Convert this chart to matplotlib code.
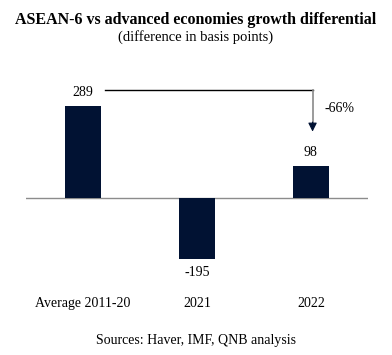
import numpy as np
import matplotlib.pyplot as plt

# data
categories = ["Average 2011-20", "2021", "2022"]
values = [289, -195, 98]
change_label = "-66%"

BAR_COLOR = "#011233"

plt.rcParams["font.family"] = ["Liberation Serif", "DejaVu Serif"]

fig = plt.figure(figsize=(3.92, 3.55), dpi=100)
ax = fig.add_axes([0.0663, 0.2535, 0.872, 0.507])

x = np.arange(len(categories))
ax.bar(x, values, width=0.32, color=BAR_COLOR, zorder=2)
ax.axhline(0, color="#8c8c8c", linewidth=1.0, zorder=1)

ax.set_xlim(-0.5, 2.5)
ax.set_ylim(-213, 355)

# value labels
for xi, v in zip(x, values):
    if v >= 0:
        ax.text(xi, v + 22, str(v), ha="center", va="bottom", fontsize=10)
    else:
        ax.text(xi, v - 22, str(v), ha="center", va="top", fontsize=10)

# category labels under the chart
for xi, c in zip(x, categories):
    ax.text(xi, -335, c, ha="center", va="center", fontsize=10)

# connector from the first bar down to the last one
y_line = values[0] + 50
x_end = x[2] + 0.015
tip = values[2] + 110
ax.plot([x[0] + 0.19, x_end], [y_line, y_line], color="black", linewidth=1.0)
ax.plot([x_end, x_end], [y_line, tip + 20], color="#8a8a8a", linewidth=1.2)
ax.annotate("", xy=(x_end, tip), xytext=(x_end, tip + 30),
            arrowprops=dict(arrowstyle="-|>", color=BAR_COLOR, lw=0.8,
                            mutation_scale=13, shrinkA=0, shrinkB=0))
ax.text(x[2] + 0.12, 280, change_label, ha="left", va="center", fontsize=10)

for s in ax.spines.values():
    s.set_visible(False)
ax.set_xticks([])
ax.set_yticks([])

fig.text(0.5, 0.945, "ASEAN-6 vs advanced economies growth differential",
         ha="center", va="center", fontsize=11.5, fontweight="bold")
fig.text(0.5, 0.895, "(difference in basis points)", ha="center", va="center",
         fontsize=10.5)
fig.text(0.5, 0.042, "Sources: Haver, IMF, QNB analysis", ha="center",
         va="center", fontsize=10)

fig.savefig("out.png", dpi=100)
